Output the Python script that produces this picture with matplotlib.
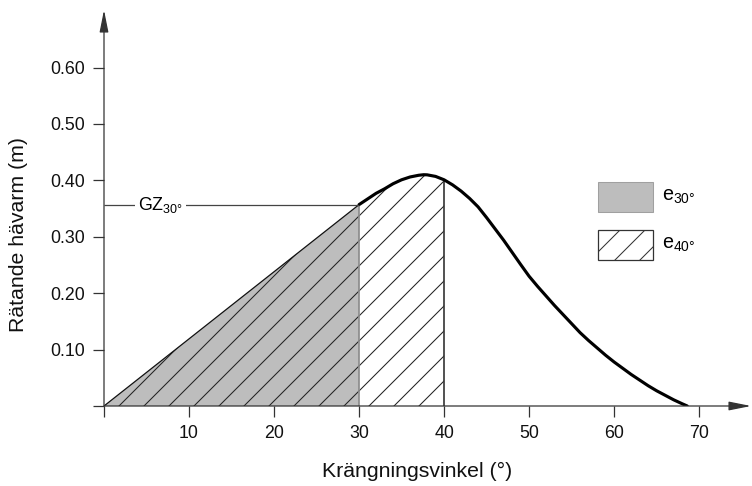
import numpy as np
import matplotlib.pyplot as plt
from matplotlib.patches import Rectangle

plt.rcParams['font.family'] = ['Liberation Sans', 'DejaVu Sans']
plt.rcParams['mathtext.fontset'] = 'custom'
plt.rcParams['mathtext.rm'] = 'Liberation Sans'
plt.rcParams['hatch.linewidth'] = 0.5

# GZ-kurva
vinkel = [0, 10, 20, 30, 31, 32, 33, 34, 35, 36, 37, 37.6, 38, 39, 40, 41, 42,
          43, 44, 45, 46, 47, 48, 49, 50, 51, 52, 53, 54, 55, 56, 57, 58, 59,
          60, 61, 62, 63, 64, 65, 66, 67, 68, 68.6]
gz = [0, 0.119, 0.238, 0.357, 0.367, 0.377, 0.385, 0.394, 0.401, 0.406, 0.409,
      0.410, 0.4098, 0.407, 0.401, 0.392, 0.381, 0.368, 0.353, 0.334, 0.314,
      0.294, 0.2725, 0.251, 0.230, 0.212, 0.195, 0.178, 0.162, 0.146, 0.130,
      0.116, 0.103, 0.090, 0.078, 0.067, 0.056, 0.046, 0.036, 0.027, 0.019,
      0.011, 0.004, 0.0]

x_ticks = [0, 10, 20, 30, 40, 50, 60, 70]
x_labels = ['', '10', '20', '30', '40', '50', '60', '70']
y_ticks = [0, 0.10, 0.20, 0.30, 0.40, 0.50, 0.60]
y_labels = ['', '0.10', '0.20', '0.30', '0.40', '0.50', '0.60']

e30_grans = 30
e40_grans = 40
gz30 = gz[vinkel.index(e30_grans)]
gz40 = gz[vinkel.index(e40_grans)]

v = np.array(vinkel)
g = np.array(gz)

fig = plt.figure(figsize=(752 / 150, 486 / 150), dpi=150)
ax = fig.add_axes([104 / 752, 80 / 486, 647 / 752, 396 / 486])
ax.set_xlim(0, 76.1)
ax.set_ylim(0, 0.702)

axis_col = '#333333'

# ytor
m30 = v <= e30_grans
ax.fill_between(v[m30], 0, g[m30], facecolor='#bdbdbd', edgecolor='none', lw=0)
m40 = v <= e40_grans
ax.fill_between(v[m40], 0, g[m40], facecolor='none', edgecolor='#222222',
                hatch='//', lw=0)

ax.vlines(e30_grans, 0, gz30, color='#8a8a8a', lw=0.8)
ax.vlines(e40_grans, 0, gz40, color='#333333', lw=0.8)

# kurva
ax.plot(v[m30], g[m30], color='#111111', lw=0.6)
m_rest = v >= e30_grans
ax.plot(v[m_rest], g[m_rest], color='black', lw=1.5,
        solid_capstyle='round', solid_joinstyle='round')

# GZ30
ax.hlines(gz30, 0, e30_grans, color='#444444', lw=0.6)
ax.text(4.0, gz30, r'$\mathregular{GZ_{30°}}$', fontsize=8.6, va='center', ha='left',
        bbox=dict(facecolor='white', edgecolor='none', pad=1.5))

# axlar med pilar
for s in ax.spines.values():
    s.set_visible(False)
ax.annotate('', xy=(1, 0), xytext=(0, 0), xycoords='axes fraction',
            arrowprops=dict(arrowstyle='-|>,head_length=0.9,head_width=0.18',
                            color=axis_col, lw=0.6, shrinkA=0, shrinkB=0))
ax.annotate('', xy=(0, 1), xytext=(0, 0), xycoords='axes fraction',
            arrowprops=dict(arrowstyle='-|>,head_length=0.9,head_width=0.18',
                            color=axis_col, lw=0.6, shrinkA=0, shrinkB=0))

ax.set_xticks(x_ticks)
ax.set_xticklabels(x_labels)
ax.set_yticks(y_ticks)
ax.set_yticklabels(y_labels)
ax.tick_params(direction='out', length=5.3, width=0.6, color=axis_col,
               labelsize=8.5, labelcolor='#111111', pad=4)

fig.text(417 / 752, 1 - 471 / 486, 'Krängningsvinkel (°)', fontsize=10.2,
         ha='center', va='center', color='#111111')
fig.text(19 / 752, 1 - 234 / 486, 'Rätande hävarm (m)', fontsize=10.2,
         ha='center', va='center', rotation=90, color='#111111')

# legend
ax.add_patch(Rectangle((0.7635, 0.490), 0.085, 0.0758, transform=ax.transAxes,
                       facecolor='#bdbdbd', edgecolor='#a0a0a0', lw=0.5,
                       clip_on=False))
ax.add_patch(Rectangle((0.7635, 0.3687), 0.085, 0.0758, transform=ax.transAxes,
                       facecolor='white', edgecolor='#333333', lw=0.6,
                       hatch='//', clip_on=False))
ax.text(0.8624, 0.528, r'$\mathregular{e_{30°}}$', transform=ax.transAxes,
        fontsize=9.5, va='center', ha='left')
ax.text(0.8624, 0.4066, r'$\mathregular{e_{40°}}$', transform=ax.transAxes,
        fontsize=9.5, va='center', ha='left')

fig.savefig('out.png', dpi=150)
